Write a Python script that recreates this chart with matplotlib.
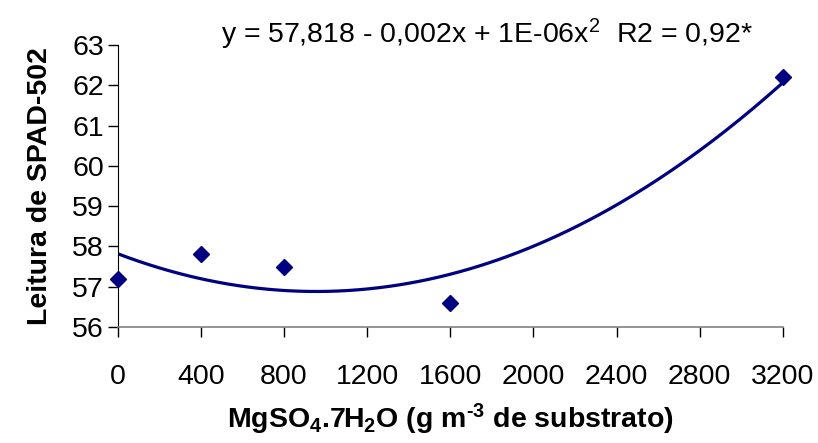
import numpy as np
import matplotlib
matplotlib.use('Agg')
import matplotlib.pyplot as plt

plt.rcParams['font.family'] = ['Liberation Sans', 'DejaVu Sans']
plt.rcParams['mathtext.fontset'] = 'custom'
plt.rcParams['mathtext.rm'] = 'Liberation Sans'
plt.rcParams['mathtext.it'] = 'Liberation Sans'
plt.rcParams['mathtext.bf'] = 'Liberation Sans:bold'

# dados
doses = [0, 400, 800, 1600, 3200]
spad = [57.2, 57.8, 57.5, 56.6, 62.2]
xticks = [0, 400, 800, 1200, 1600, 2000, 2400, 2800, 3200]
yticks = [56, 57, 58, 59, 60, 61, 62, 63]
equacao = r'y = 57,818 - 0,002x + 1E-06x$^2$  R2 = 0,92*'

cor = '#000080'

# linha de tendencia polinomial (ordem 2)
coef = np.polyfit(doses, spad, 2)
xs = np.linspace(0, 3200, 200)
ys = np.polyval(coef, xs)

fig = plt.figure(figsize=(8.18, 4.43), dpi=100)
ax = fig.add_axes([0.144, 0.262, 0.813, 0.636])

ax.plot(xs, ys, color=cor, lw=2.3, zorder=2)
ax.plot(doses, spad, 'D', color=cor, ms=8, zorder=3, clip_on=False)

ax.set_xlim(0, 3200)
ax.set_ylim(56, 63)
ax.set_xticks(xticks)
ax.set_yticks(yticks)
ax.tick_params(labelsize=20.5, length=7, width=1, color='black', direction='out')
ax.tick_params(axis='x', pad=20)
ax.tick_params(axis='y', pad=3)

for s in ['top', 'right']:
    ax.spines[s].set_visible(False)
ax.spines['left'].set_color('black')
ax.spines['bottom'].set_color('#808080')
ax.spines['bottom'].set_linewidth(1.2)

ax.set_ylabel('Leitura de SPAD-502', fontsize=20.5, fontweight='bold', labelpad=14)
ax.set_xlabel('MgSO$_\\mathbf{4}$.7H$_\\mathbf{2}$O (g m$^\\mathbf{\u20103}$ de substrato)',
              fontsize=20.5, fontweight='bold', labelpad=8)

fig.text(0.595, 0.922, equacao, fontsize=20.5, ha='center', va='center')

fig.savefig('out.png', dpi=100)
